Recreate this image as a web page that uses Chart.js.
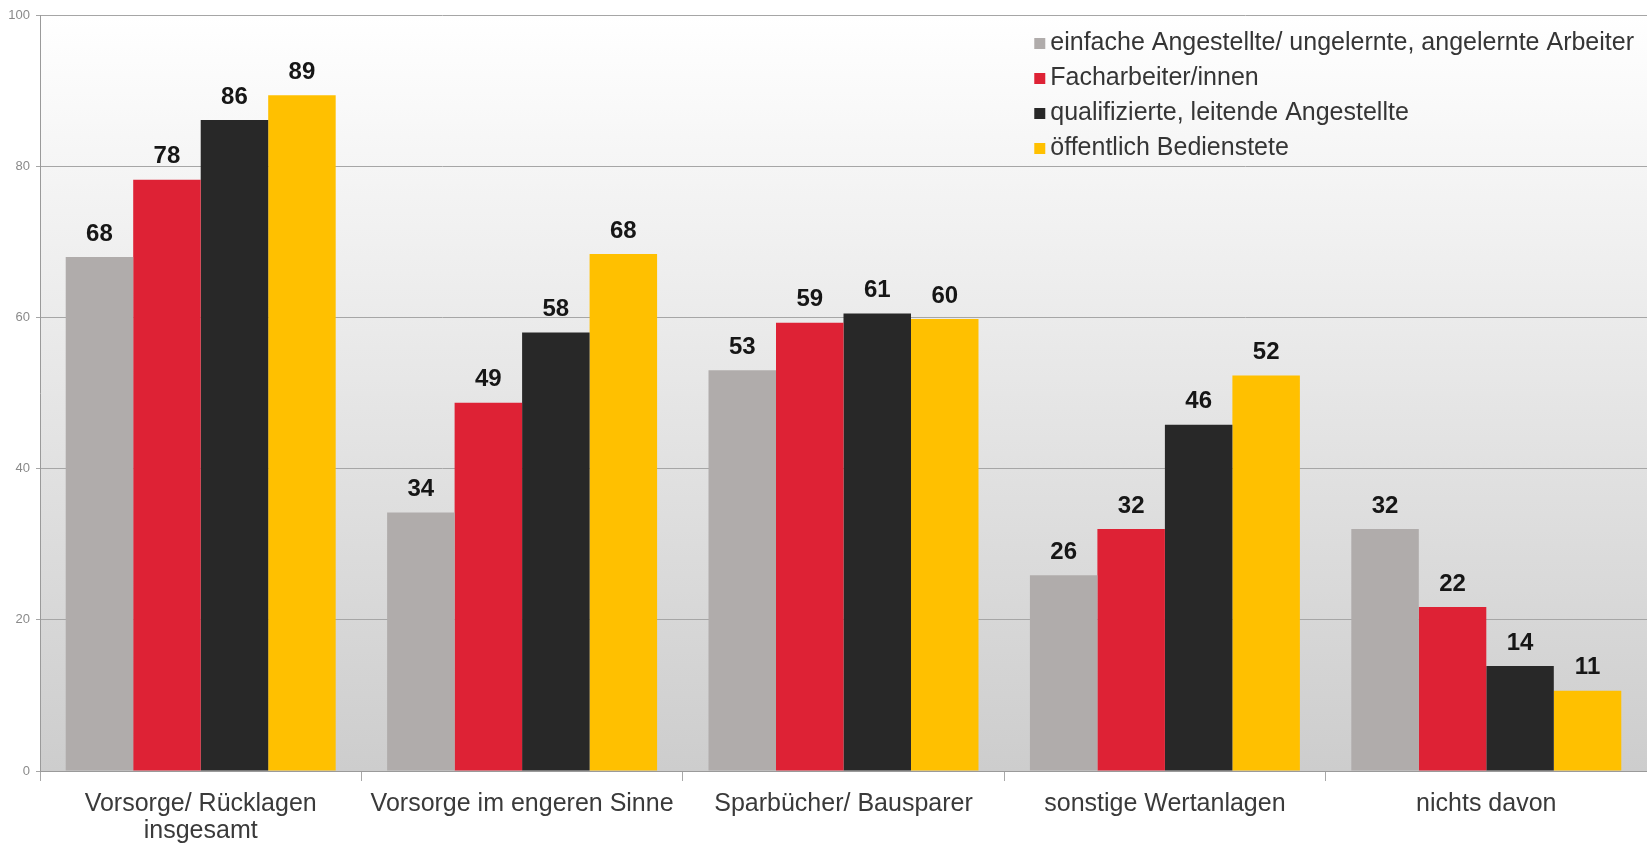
<!DOCTYPE html>
<html lang="de">
<head>
<meta charset="UTF-8">
<title>Vorsorge nach Berufsgruppe</title>
<script src="https://cdn.jsdelivr.net/npm/chart.js"></script>
<style>
    html, body {
        margin: 0;
        padding: 0;
        background: #ffffff;
    }
    .wrap {
        width: 1647px;
        height: 844px;
    }
</style>
</head>
<body>
<div class="wrap"><canvas id="chart" width="1647" height="844"></canvas></div>
<script>
const categories = [
    ['Vorsorge/ Rücklagen', 'insgesamt'],
    'Vorsorge im engeren Sinne',
    'Sparbücher/ Bausparer',
    'sonstige Wertanlagen',
    'nichts davon'
];
const seriesLabels = [
    'einfache Angestellte/ ungelernte, angelernte Arbeiter',
    'Facharbeiter/innen',
    'qualifizierte, leitende Angestellte',
    'öffentlich Bedienstete'
];
const einfache = [68.0, 34.2, 53.0, 25.9, 32.0];
const facharbeiter = [78.2, 48.7, 59.3, 32.0, 21.7];
const qualifizierte = [86.1, 58.0, 60.5, 45.8, 13.9];
const oeffentlich = [89.4, 68.4, 59.8, 52.3, 10.6];
const seriesColors = ['#b0acab', '#de2235', '#282828', '#ffc000'];
const yTicks = [0, 20, 40, 60, 80, 100];

const FONT = "'Liberation Sans', Arial, sans-serif";

// gradient behind the plot area only
const plotBackground = {
    id: 'plotBackground',
    beforeDraw(chart) {
        const { ctx, chartArea: a } = chart;
        const g = ctx.createLinearGradient(0, a.top, 0, a.bottom);
        g.addColorStop(0, '#ffffff');
        g.addColorStop(1, '#cdcdcd');
        ctx.save();
        ctx.fillStyle = g;
        ctx.fillRect(a.left, a.top, a.right - a.left, a.bottom - a.top);
        ctx.restore();
    }
};

// value labels above the bars
const valueLabels = {
    id: 'valueLabels',
    afterDatasetsDraw(chart) {
        const { ctx } = chart;
        ctx.save();
        ctx.font = 'bold 24px ' + FONT;
        ctx.fillStyle = '#161616';
        ctx.textAlign = 'center';
        ctx.textBaseline = 'middle';
        chart.data.datasets.forEach((ds, i) => {
            chart.getDatasetMeta(i).data.forEach((bar, j) => {
                ctx.fillText(Math.round(ds.data[j]), bar.x, bar.y - 23);
            });
        });
        ctx.restore();
    }
};

// legend drawn inside the plot, top right
const innerLegend = {
    id: 'innerLegend',
    afterDraw(chart) {
        const { ctx, chartArea: a } = chart;
        ctx.save();
        ctx.font = '25px ' + FONT;
        ctx.textBaseline = 'middle';
        const widths = chart.data.datasets.map(ds => ctx.measureText(ds.label).width);
        const textX = a.right - 13 - Math.max(...widths);
        chart.data.datasets.forEach((ds, i) => {
            const y = 43 + i * 35;
            ctx.fillStyle = ds.backgroundColor;
            ctx.fillRect(textX - 16, y - 5, 11, 11);
            ctx.fillStyle = '#353535';
            ctx.fillText(ds.label, textX, y);
        });
        ctx.restore();
    }
};

const datasets = [einfache, facharbeiter, qualifizierte, oeffentlich].map((vals, i) => ({
    label: seriesLabels[i],
    data: vals,
    backgroundColor: seriesColors[i],
    borderWidth: 0,
    categoryPercentage: 0.84,
    barPercentage: 1.0
}));

new Chart(document.getElementById('chart'), {
    type: 'bar',
    data: { labels: categories, datasets: datasets },
    options: {
        responsive: false,
        animation: false,
        layout: { padding: { top: 15, right: 0, left: 0, bottom: 0 } },
        plugins: {
            legend: { display: false },
            tooltip: { enabled: false }
        },
        scales: {
            x: {
                afterFit(scale) { scale.height = 73; },
                grid: {
                    display: true,
                    offset: true,
                    drawOnChartArea: false,
                    drawTicks: true,
                    tickLength: 10,
                    color: '#a8a8a8'
                },
                border: { display: true, color: '#9a9a9a', width: 1 },
                ticks: {
                    color: '#3a3a3a',
                    font: { family: FONT, size: 25, lineHeight: 1.1 },
                    padding: 9,
                    maxRotation: 0,
                    autoSkip: false
                }
            },
            y: {
                min: 0,
                max: 100,
                afterFit(scale) { scale.width = 40; },
                afterBuildTicks(scale) { scale.ticks = yTicks.map(v => ({ value: v })); },
                grid: {
                    color: '#a6a6a6',
                    drawTicks: true,
                    tickLength: 4
                },
                border: { display: true, color: '#9a9a9a', width: 1 },
                ticks: {
                    color: '#8a8a8a',
                    font: { family: FONT, size: 13 },
                    padding: 6
                }
            }
        }
    },
    plugins: [plotBackground, valueLabels, innerLegend]
});
</script>
</body>
</html>
